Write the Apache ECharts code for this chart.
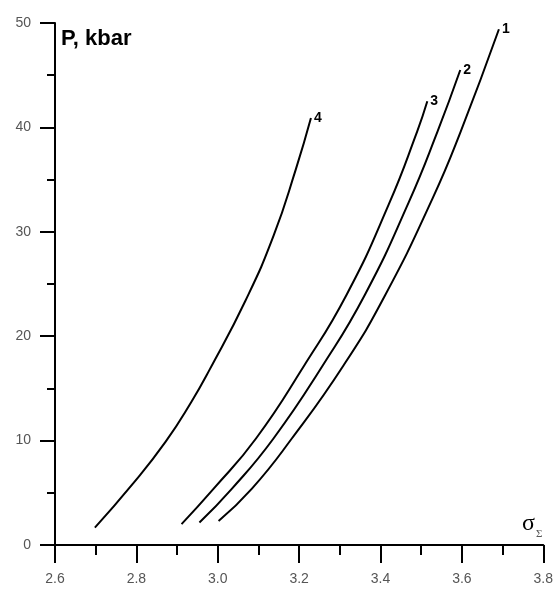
<!DOCTYPE html>
<html>
<head>
<meta charset="utf-8">
<script src="https://cdn.jsdelivr.net/npm/echarts@6/dist/echarts.min.js"></script>
<style>
html,body{margin:0;padding:0;background:#fff;}
#chart{width:556px;height:590px;}
</style>
</head>
<body>
<div id="chart"></div>
<script>
// Data
var curve1 = [[3.002,2.3],[3.084,5.4],[3.182,10.2],[3.309,17.2],[3.411,23.9],[3.528,33.2],[3.597,39.6],[3.691,49.4]];
var curve2 = [[2.955,2.15],[3.035,5.4],[3.137,10.2],[3.258,17.2],[3.362,24.0],[3.469,32.8],[3.540,39.6],[3.596,45.5]];
var curve3 = [[2.911,2.0],[2.990,5.4],[3.094,10.2],[3.211,17.1],[3.317,24.0],[3.420,32.6],[3.490,39.6],[3.515,42.5]];
var curve4 = [[2.698,1.66],[2.790,5.8],[2.872,9.9],[2.935,13.7],[2.980,16.8],[3.068,23.4],[3.137,29.6],[3.192,36.0],[3.229,40.9]];
var curveNames = ['1','2','3','4'];
var xTicks = {min:2.6, max:3.8, step:0.2};
var yTicks = {min:0, max:50, step:10};

var chart = echarts.init(document.getElementById('chart'), null, {renderer:'canvas'});
function mk(name, data){
  return {
    type:'line', name:name, data:data, smooth:0.5,
    showSymbol:false, symbol:'none',
    lineStyle:{color:'#000', width:2},
    endLabel:{show:true, formatter:name, distance:3, color:'#000',
      fontFamily:'Liberation Sans, Arial', fontWeight:'bold', fontSize:14},
    animation:false
  };
}
chart.setOption({
  animation:false,
  backgroundColor:'#fff',
  grid:{left:55, right:11, top:23, bottom:45, containLabel:false},
  xAxis:{
    type:'value', min:xTicks.min, max:xTicks.max, interval:xTicks.step,
    axisLine:{show:true, onZero:false, lineStyle:{color:'#000', width:2}},
    axisTick:{show:true, length:18, lineStyle:{color:'#000', width:2}},
    minorTick:{show:true, splitNumber:2, length:10, lineStyle:{color:'#000', width:2}},
    splitLine:{show:false},
    axisLabel:{margin:27, color:'#555', fontSize:14, fontFamily:'Liberation Sans, Arial',
      formatter:function(v){return v.toFixed(1);}}
  },
  yAxis:{
    type:'value', min:yTicks.min, max:yTicks.max, interval:yTicks.step,
    axisLine:{show:true, lineStyle:{color:'#000', width:2}},
    axisTick:{show:true, length:15, lineStyle:{color:'#000', width:2}},
    minorTick:{show:true, splitNumber:2, length:8, lineStyle:{color:'#000', width:2}},
    splitLine:{show:false},
    axisLabel:{margin:24, color:'#555', fontSize:14, fontFamily:'Liberation Sans, Arial'}
  },
  graphic:[
    {type:'text', left:61, top:28, style:{text:'P, kbar', fill:'#000',
      font:'bold 22px "Liberation Sans", Arial'}},
    {type:'text', left:522, top:512, style:{
      text:'{s|σ}{sub|Σ}',
      rich:{
        s:{fontFamily:'Liberation Serif, Times New Roman', fontSize:24, fill:'#000', color:'#000', verticalAlign:'bottom'},
        sub:{fontFamily:'Liberation Serif, Times New Roman', fontSize:11, fill:'#555', color:'#555', verticalAlign:'bottom', padding:[0,0,-4,1]}
      }
    }}
  ],
  series:[mk(curveNames[0],curve1), mk(curveNames[1],curve2), mk(curveNames[2],curve3), mk(curveNames[3],curve4)]
});
</script>
</body>
</html>
